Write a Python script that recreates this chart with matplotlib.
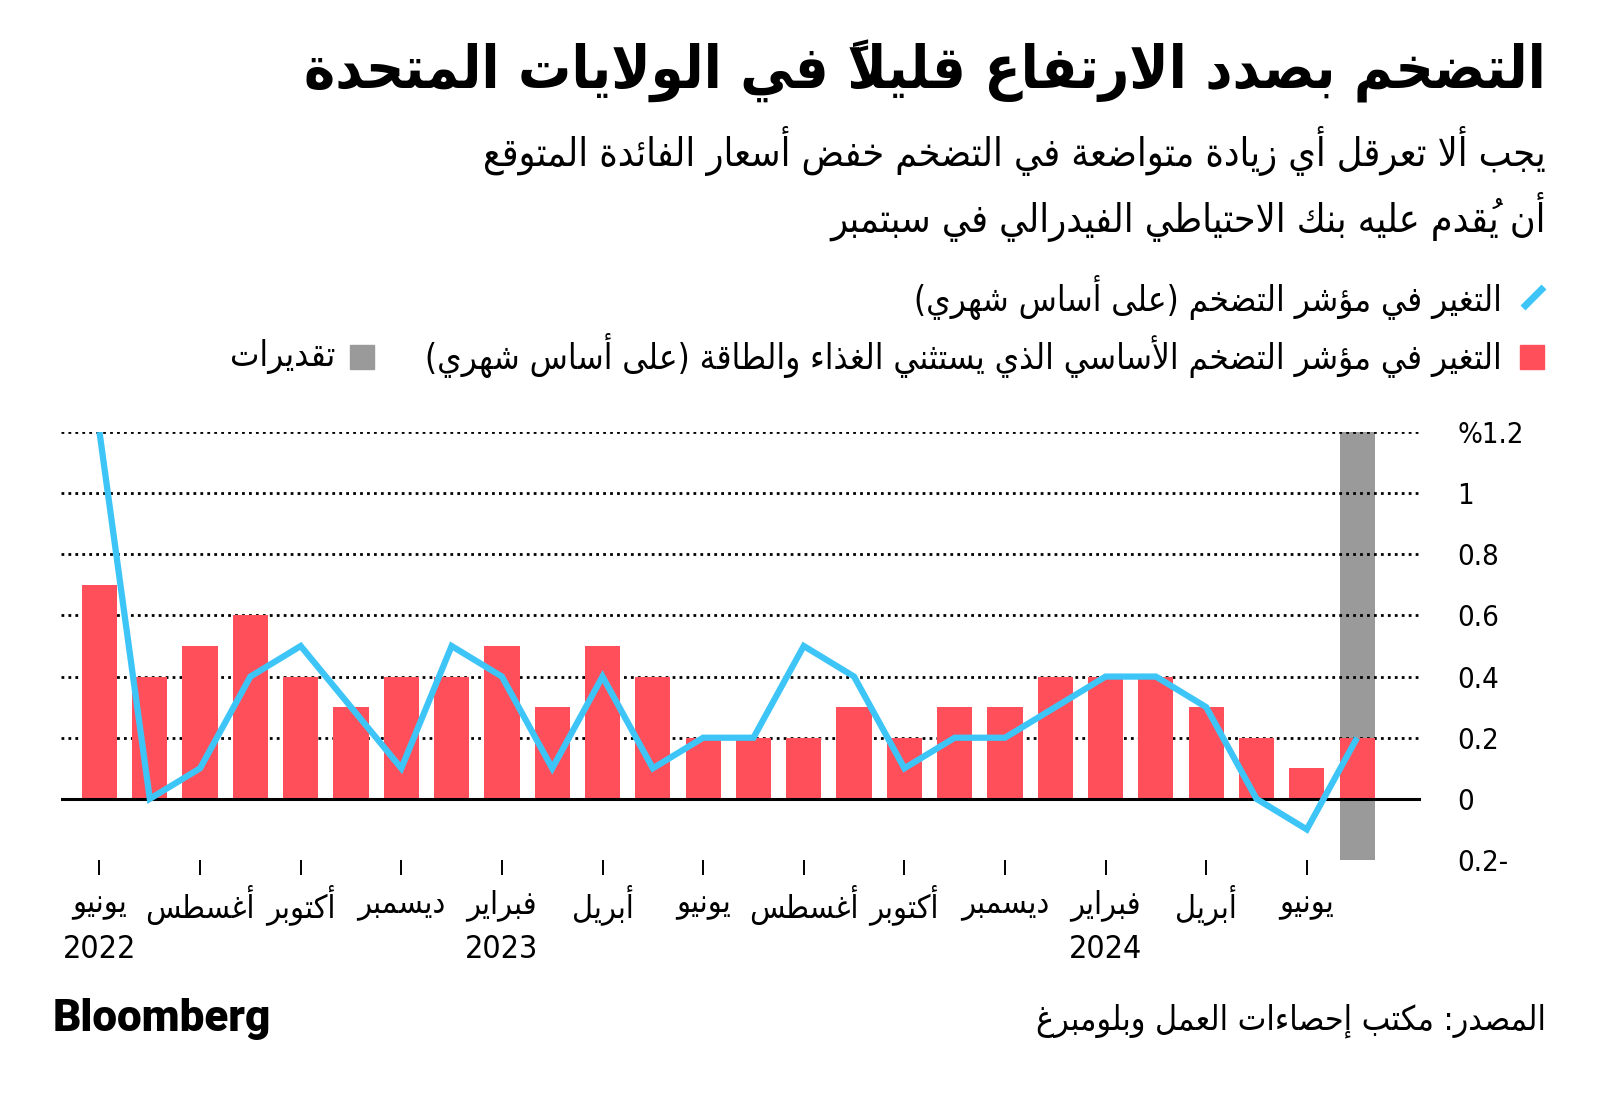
import matplotlib
matplotlib.use("Agg")
import matplotlib.pyplot as plt
from matplotlib.lines import Line2D
from matplotlib.patches import Rectangle
import matplotlib.transforms as mtrans

# ---------------- data ----------------
month_index = list(range(26))  # June 2022 .. July 2024
core_cpi_mom = [0.7, 0.4, 0.5, 0.6, 0.4, 0.3, 0.4, 0.4, 0.5, 0.3, 0.5, 0.4, 0.2,
                0.2, 0.2, 0.3, 0.2, 0.3, 0.3, 0.4, 0.4, 0.4, 0.3, 0.2, 0.1, 0.2]
cpi_mom = [1.2, 0.0, 0.1, 0.4, 0.5, 0.3, 0.1, 0.5, 0.4, 0.1, 0.4, 0.1, 0.2,
           0.2, 0.5, 0.4, 0.1, 0.2, 0.2, 0.3, 0.4, 0.4, 0.3, 0.0, -0.1, 0.2]
estimate_index = [25]
estimate_low = -0.2
estimate_high = 1.2
tick_positions = [0, 2, 4, 6, 8, 10, 12, 14, 16, 18, 20, 22, 24]
tick_months = ["يونيو", "أغسطس", "أكتوبر", "ديسمبر", "فبراير", "أبريل", "يونيو",
               "أغسطس", "أكتوبر", "ديسمبر", "فبراير", "أبريل", "يونيو"]
year_positions = [0, 8, 20]
year_labels = ["2022", "2023", "2024"]
y_ticks = [-0.2, 0.0, 0.2, 0.4, 0.6, 0.8, 1.0, 1.2]
y_labels = ["0.2-", "0", "0.2", "0.4", "0.6", "0.8", "1", "%1.2"]
title = "التضخم بصدد الارتفاع قليلاً في الولايات المتحدة"
subtitle1 = "يجب ألا تعرقل أي زيادة متواضعة في التضخم خفض أسعار الفائدة المتوقع"
subtitle2 = "أن يُقدم عليه بنك الاحتياطي الفيدرالي في سبتمبر"
legend_cpi = "التغير في مؤشر التضخم (على أساس شهري)"
legend_core = "التغير في مؤشر التضخم الأساسي الذي يستثني الغذاء والطاقة (على أساس شهري)"
legend_est = "تقديرات"
source = "المصدر: مكتب إحصاءات العمل وبلومبرغ"
brand = "Bloomberg"

# ---------------- Arabic shaping (presentation forms + visual order) ----------------
_D = "ئبتثجحخسشصضطظعغفقكلمنهيـ"
_R = "آأؤإاةدذرزوى"
_BASE = {'ء': 0xFE80, 'آ': 0xFE81, 'أ': 0xFE83, 'ؤ': 0xFE85, 'إ': 0xFE87, 'ئ': 0xFE89,
         'ا': 0xFE8D, 'ب': 0xFE8F, 'ة': 0xFE93, 'ت': 0xFE95, 'ث': 0xFE99, 'ج': 0xFE9D,
         'ح': 0xFEA1, 'خ': 0xFEA5, 'د': 0xFEA9, 'ذ': 0xFEAB, 'ر': 0xFEAD, 'ز': 0xFEAF,
         'س': 0xFEB1, 'ش': 0xFEB5, 'ص': 0xFEB9, 'ض': 0xFEBD, 'ط': 0xFEC1, 'ظ': 0xFEC5,
         'ع': 0xFEC9, 'غ': 0xFECD, 'ف': 0xFED1, 'ق': 0xFED5, 'ك': 0xFED9, 'ل': 0xFEDD,
         'م': 0xFEE1, 'ن': 0xFEE5, 'ه': 0xFEE9, 'و': 0xFEED, 'ى': 0xFEEF, 'ي': 0xFEF1}
_LAM_ALEF = {'آ': 0xFEF5, 'أ': 0xFEF7, 'إ': 0xFEF9, 'ا': 0xFEFB}


def _jt(c):
    if c in _D:
        return 'D'
    if c in _R:
        return 'R'
    return 'U'


def _is_mark(c):
    return 0x064B <= ord(c) <= 0x0652 or ord(c) == 0x0670


def ar(text):
    clusters = []
    for ch in text:
        if _is_mark(ch) and clusters:
            clusters[-1][1] += ch
        else:
            clusters.append([ch, ""])
    out = []
    n = len(clusters)
    i = 0
    while i < n:
        c, marks = clusters[i]
        prev_j = i > 0 and _jt(clusters[i - 1][0]) == 'D'
        if c == 'ل' and i + 1 < n and clusters[i + 1][0] in _LAM_ALEF:
            g = _LAM_ALEF[clusters[i + 1][0]] + (1 if prev_j else 0)
            out.append(marks + clusters[i + 1][1] + chr(g))
            i += 2
            continue
        if c in _BASE:
            t = _jt(c)
            base = _BASE[c]
            next_j = t == 'D' and i + 1 < n and _jt(clusters[i + 1][0]) in ('D', 'R')
            if t == 'U':
                g = base
            elif t == 'R':
                g = base + (1 if prev_j else 0)
            else:
                if prev_j and next_j:
                    g = base + 3
                elif prev_j:
                    g = base + 1
                elif next_j:
                    g = base + 2
                else:
                    g = base
            out.append(marks + chr(g))
        else:
            out.append(marks + c)
        i += 1
    vis = "".join(reversed(out))
    return vis.translate(str.maketrans("()", ")("))


# ---------------- figure ----------------
W, H = 1600, 1096
fig = plt.figure(figsize=(W / 100, H / 100), dpi=100)
fig.patch.set_facecolor("white")
renderer = fig.canvas.get_renderer()

AR_FONT = dict(family="DejaVu Sans", stretch="condensed")
RED = "#ff4f5a"
BLUE = "#3ec5f7"
GRAY = "#9a9a9a"

ax = fig.add_axes([61 / W, 1 - 860 / H, (1421 - 61) / W, (860 - 432) / H])
ax.set_facecolor("white")
ax.set_xlim(-0.765, 26.27)
ax.set_ylim(-0.2, 1.2)
for s in ax.spines.values():
    s.set_visible(False)

ax.bar(estimate_index, [estimate_high - estimate_low], bottom=estimate_low,
       width=0.7, color=GRAY, zorder=0.5)
for yv in y_ticks:
    if yv > 0:
        ax.axhline(yv, color="black", lw=2.0, ls=(0, (1, 1.5)), zorder=1)
ax.bar(month_index, core_cpi_mom, width=0.7, color=RED, zorder=2)
ax.axhline(0, color="black", lw=2.2, zorder=2.5)
ax.plot(month_index, cpi_mom, color=BLUE, lw=4.5, zorder=3,
        solid_joinstyle="miter", solid_capstyle="butt")

ax.set_xticks(tick_positions)
ax.set_xticklabels([])
ax.tick_params(axis="x", length=11, width=1.4, direction="out", color="black")
ax.yaxis.tick_right()
ax.set_yticks(y_ticks)
ax.set_yticklabels(y_labels)
ax.tick_params(axis="y", length=0, pad=26, labelsize=21)
for lab in ax.get_yticklabels():
    lab.set_fontstretch("condensed")


def fit(s, x_px, y_px, width, ha="right", size0=20, **kw):
    t = fig.text(x_px / W, 1 - y_px / H, s, ha=ha, va="center", fontsize=size0, **kw)
    w = t.get_window_extent(renderer).width
    t.set_fontsize(size0 * width / w)
    return t


# title & subtitles
fit(ar(title), 1546, 71, 1242, fontweight="bold", **AR_FONT)
st = fit(ar(subtitle1), 1546, 151, 1063, **AR_FONT)
fig.text(1546 / W, 1 - 217 / H, ar(subtitle2), ha="right", va="center",
         fontsize=st.get_fontsize(), **AR_FONT)

# legend
lg = fit(ar(legend_core), 1502, 356, 1075, **AR_FONT)
fig.text(1502 / W, 1 - 298 / H, ar(legend_cpi), ha="right", va="center",
         fontsize=lg.get_fontsize(), **AR_FONT)
fig.text(335 / W, 1 - 356 / H, ar(legend_est), ha="right", va="center",
         fontsize=lg.get_fontsize(), **AR_FONT)
fig.add_artist(Line2D([1523 / W, 1544 / W], [1 - 308 / H, 1 - 287 / H],
                      transform=fig.transFigure, color=BLUE, lw=5, solid_capstyle="butt"))
fig.add_artist(Rectangle((1520 / W, 1 - 369 / H), 24 / W, 24 / H,
                         transform=fig.transFigure, color=RED))
fig.add_artist(Rectangle((350 / W, 1 - 369 / H), 24 / W, 24 / H,
                         transform=fig.transFigure, color=GRAY))

# x labels
trans = mtrans.blended_transform_factory(ax.transData, fig.transFigure)
probe = fig.text(0, 0, ar("ديسمبر"), fontsize=20, **AR_FONT)
msize = 20 * 88 / probe.get_window_extent(renderer).width
probe.remove()
for p, m in zip(tick_positions, tick_months):
    ax.text(p, 1 - 905 / H, ar(m), transform=trans, ha="center", va="center",
            fontsize=msize, **AR_FONT)
for p, yl in zip(year_positions, year_labels):
    ax.text(p, 1 - 949 / H, yl, transform=trans, ha="center", va="center",
            fontsize=23, family="DejaVu Sans", stretch="condensed")

# footer
fit(ar(source), 1546, 1021, 510, **AR_FONT)
fit(brand, 53, 1019, 219, ha="left", fontweight="black", family=["Roboto", "DejaVu Sans"])

fig.savefig("out.png", dpi=100, facecolor="white")
